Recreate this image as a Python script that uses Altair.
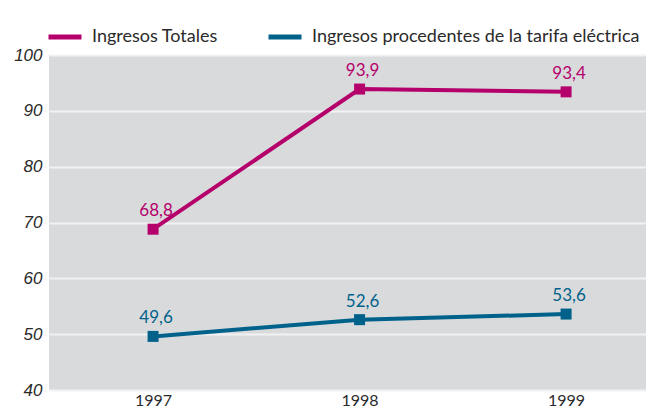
import altair as alt
import pandas as pd

years = [1997, 1998, 1999]
series_names = ["Ingresos Totales", "Ingresos procedentes de la tarifa eléctrica"]
totales = [68.8, 93.9, 93.4]
tarifa = [49.6, 52.6, 53.6]
colors = ["#B5006B", "#00628A"]
y_ticks = [40, 50, 60, 70, 80, 90, 100]

rows = []
for y, v in zip(years, totales):
    rows.append({"year": y, "value": v, "serie": series_names[0], "label": f"{v:.1f}".replace(".", ",")})
for y, v in zip(years, tarifa):
    rows.append({"year": y, "value": v, "serie": series_names[1], "label": f"{v:.1f}".replace(".", ",")})
df = pd.DataFrame(rows)

FONT = "Lato"

x = alt.X("year:Q", scale=alt.Scale(domain=[1996.496, 1999.387], nice=False, zero=False),
          axis=alt.Axis(values=years, format="d", title=None, grid=False, domain=False, ticks=False,
                        labelFontSize=16, labelColor="#2a2a2a", labelFont=FONT, labelPadding=2))
y = alt.Y("value:Q", scale=alt.Scale(domain=[40, 100], nice=False, zero=False),
          axis=alt.Axis(values=y_ticks, title=None, domain=False, ticks=False, grid=True,
                        gridColor="#F2F2F2", gridWidth=2, labelFontSize=17, labelFontStyle="italic",
                        labelColor="#2a2a2a", labelFont="Liberation Sans", labelPadding=7))
color = alt.Color("serie:N", scale=alt.Scale(domain=series_names, range=colors),
                  legend=alt.Legend(title=None, orient="none", direction="horizontal",
                                    legendX=-3, legendY=-37, symbolType="stroke", symbolSize=1089,
                                    symbolStrokeWidth=5, labelFontSize=18, labelFont=FONT,
                                    labelColor="#2a2a2a", labelOffset=8, columnPadding=40,
                                    labelLimit=500))

base = alt.Chart(df)
lines = base.mark_line(strokeWidth=4).encode(x=x, y=y, color=color)
points = base.mark_point(shape="square", filled=True, size=121, opacity=1).encode(
    x=x, y=y, color=alt.Color("serie:N", scale=alt.Scale(domain=series_names, range=colors), legend=None))
labels = base.mark_text(dy=-18, dx=3, fontSize=17, font=FONT, align="center").encode(
    x=x, y=y, text="label:N",
    color=alt.Color("serie:N", scale=alt.Scale(domain=series_names, range=colors), legend=None))

chart = alt.layer(lines, points, labels).properties(
    width=597, height=335,
    autosize=alt.AutoSizeParams(type="none"),
    padding={"left": 41, "top": 47, "right": 0, "bottom": 21},
).configure_view(fill="#D9DADC", stroke=None)

chart.save("out.html", embed_options={"renderer": "svg", "actions": False})
